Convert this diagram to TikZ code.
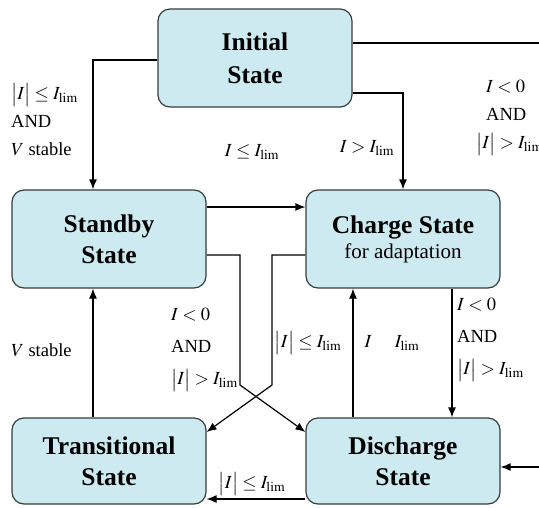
\documentclass[tikz,border=0pt]{standalone}
\usepackage{mathptmx}
\usepackage{fontspec}
\setmainfont{Liberation Serif}
\usetikzlibrary{arrows.meta}
\definecolor{boxfill}{RGB}{206,234,241}
\definecolor{boxline}{RGB}{55,60,62}
\begin{document}
\begin{tikzpicture}[x=1pt,y=-1pt,
  state/.style={draw=boxline, fill=boxfill, rounded corners=12pt, line width=1.2pt,
    minimum width=194pt, minimum height=98pt, align=center,
    font=\bfseries\fontsize{25.5}{31}\selectfont},
  conn/.style={line width=1.2pt, -{Latex[length=10pt,width=8pt]}},
  plain/.style={line width=1.2pt},
  lab/.style={font=\fontsize{18.5}{28}\selectfont, align=left, inner sep=0pt}]
\useasboundingbox (0,0) rectangle (539,507);
% states
\node[state] (init) at (255,58) {Initial\\[2pt]State};
\node[state] (stand) at (109,239) {Standby\\State};
\node[state] (charge) at (403,239) {Charge State\\[-6pt]{\mdseries\fontsize{21}{24}\selectfont for adaptation}};
\node[state, minimum height=86pt] (trans) at (109,461) {Transitional\\State};
\node[state, minimum height=86pt] (dis) at (403,461) {Discharge\\State};
% free ends on the right margin
\coordinate (r1) at (545,43);
\coordinate (r2) at (545,467);
\coordinate (s1) at (240,255);
\coordinate (s2) at (240,385);
\coordinate (c1) at (272,255);
\coordinate (c2) at (272,385);
% connectors
\draw[conn] ([yshift=-2pt]init.west) -| ([xshift=-16pt]stand.north);
\draw[plain] ([yshift=15pt]init.east) -- (r1);
\draw[conn] ([yshift=-35pt]init.east) -| (charge.north);
\draw[conn] ([yshift=32pt]stand.east) -- ([yshift=32pt]charge.west);
\draw[conn] ([yshift=-16pt]stand.east) -- (s1) -- (s2) -- ([yshift=29pt]dis.west);
\draw[conn] ([yshift=-16pt]charge.west) -- (c1) -- (c2) -- ([yshift=29pt]trans.east);
\draw[conn] ([xshift=-50pt]dis.north) -- ([xshift=-50pt]charge.south);
\draw[conn] ([xshift=49pt]charge.south) -- ([xshift=49pt]dis.north);
\draw[conn] ([xshift=-16pt]trans.north) -- ([xshift=-16pt]stand.south);
\draw[conn] ([yshift=-38pt]dis.west) -- ([yshift=-38pt]trans.east);
\draw[conn] (r2) -- ([yshift=-6pt]dis.east);
% labels
\node[lab, anchor=west] (l1) at (11,120) {$\bigl|I\bigr|\le I_{\mathrm{lim}}$\\AND\\$V$ stable};
\node[lab] (l2) at (252,152) {$I\le I_{\mathrm{lim}}$};
\node[lab] (l3) at (367,148) {$I> I_{\mathrm{lim}}$};
\node[lab, anchor=west] (l4) at (476,118) {\hspace*{10pt}$I<0$\\\hspace*{10pt}AND\\$\bigl|I\bigr|> I_{\mathrm{lim}}$};
\node[lab, anchor=west, font=\fontsize{18.5}{32}\selectfont] (l5) at (171,350) {$I<0$\\AND\\$\bigl|I\bigr|> I_{\mathrm{lim}}$};
\node[lab] (l6) at (308,343) {$\bigl|I\bigr|\le I_{\mathrm{lim}}$};
\node[lab] (l7) at (392,343) {$I\quad\ I_{\mathrm{lim}}$};
\node[lab, anchor=west, font=\fontsize{18.5}{32}\selectfont] (l8) at (457,340) {$I<0$\\AND\\$\bigl|I\bigr|> I_{\mathrm{lim}}$};
\node[lab, anchor=west] (l9) at (11,350) {$V$ stable};
\node[lab] (l10) at (252,484) {$\bigl|I\bigr|\le I_{\mathrm{lim}}$};
\end{tikzpicture}
\end{document}
